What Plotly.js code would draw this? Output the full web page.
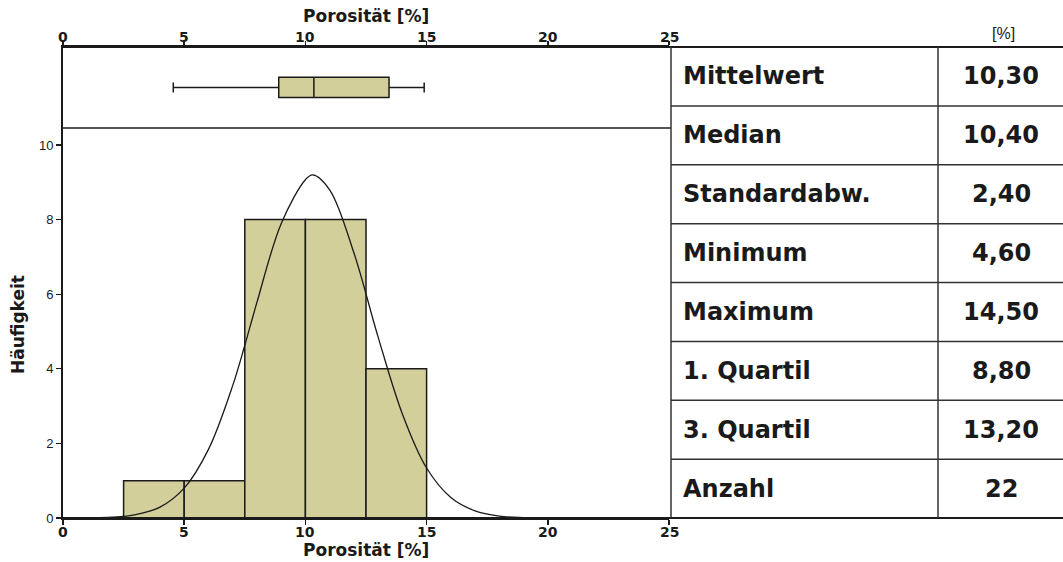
<!DOCTYPE html>
<html>
<head>
<meta charset="utf-8">
<script src="https://cdn.plot.ly/plotly-3.0.1.min.js"></script>
<style>html,body{margin:0;padding:0;background:#fff;}#chart{width:1063px;height:562px;}</style>
</head>
<body>
<div id="chart"></div>
<script>
// ---- data ----
const binCenters = [3.75, 6.25, 8.75, 11.25, 13.75];
const binCounts  = [1, 1, 8, 8, 4];
const binWidth   = 2.5;

const curveX = [0, 1, 2, 3, 4, 5, 6, 7, 7.5, 8, 9, 10, 10.3, 11, 12, 13, 14, 15, 16, 17, 18, 19, 20];
const curveY = [0.00, 0.005, 0.02, 0.09, 0.29, 0.80, 1.84, 3.55, 4.63, 5.78, 7.89, 9.07, 9.2, 8.8, 7.11, 4.85, 2.79, 1.34, 0.55, 0.19, 0.05, 0.01, 0.00];

const boxMin = [4.55], boxQ1 = [8.9], boxMedian = [10.35], boxQ3 = [13.45], boxMax = [14.9];

const statLabels = ["Mittelwert", "Median", "Standardabw.", "Minimum", "Maximum", "1. Quartil", "3. Quartil", "Anzahl"];
const statValues = ["10,30", "10,40", "2,40", "4,60", "14,50", "8,80", "13,20", "22"];
const unitHeader = "[%]";
const xTicks = [0, 5, 10, 15, 20, 25];
const yTicks = [0, 2, 4, 6, 8, 10];
const xTitle = "Porosität [%]";
const yTitle = "Häufigkeit";

// ---- layout geometry (pixels) ----
const W = 1063, H = 562;
const L = 63, T = 47, B = 44;
const plotW = W - L, plotH = H - T - B;
const px = x => (x - L) / plotW;          // pixel x -> paper
const py = y => (H - B - y) / plotH;      // pixel y -> paper
const sepY = 128, tableX = 671, colX = 938, rightX = 1063;

const fill = '#D3CF9B';
const ink = '#1a1a1a';
const FONT = 'Liberation Sans, Arial, sans-serif';
const TFONT = 'DejaVu Sans, Liberation Sans, sans-serif';

const traces = [
  {
    type: 'bar', x: binCenters, y: binCounts, width: binWidth,
    marker: {color: fill, line: {color: ink, width: 1.5}},
    xaxis: 'x', yaxis: 'y', hoverinfo: 'x+y'
  },
  {
    type: 'scatter', mode: 'lines', x: curveX, y: curveY,
    line: {color: ink, width: 1.3, shape: 'spline', smoothing: 1},
    xaxis: 'x', yaxis: 'y'
  },
  {
    type: 'box', orientation: 'h', y: [0],
    q1: boxQ1, median: boxMedian, q3: boxQ3, lowerfence: boxMin, upperfence: boxMax,
    width: 0.5, whiskerwidth: 0.5,
    fillcolor: fill, line: {color: ink, width: 1.5},
    xaxis: 'x2', yaxis: 'y2'
  }
];

const shapes = [];
const line = (x0, y0, x1, y1, w, c) => shapes.push({type: 'line', xref: 'paper', yref: 'paper',
  x0: px(x0), y0: py(y0), x1: px(x1), y1: py(y1), line: {color: c || ink, width: w}});

// frame
line(L, T, rightX, T, 2);
line(L, H - B, rightX, H - B, 2);
line(L, sepY, tableX, sepY, 1.5);
line(tableX, T, tableX, H - B, 1.5, '#333');
line(colX, T, colX, H - B, 1.5, '#333');
const nRows = statLabels.length;
const rowH = (H - B - T) / nRows;
for (let i = 1; i < nRows; i++) {
  line(tableX, T + i * rowH, rightX, T + i * rowH, 1.5, '#333');
}

const annotations = [];
statLabels.forEach((lab, i) => {
  const yc = T + (i + 0.5) * rowH;
  annotations.push({xref: 'paper', yref: 'paper', x: px(681), y: py(yc), xanchor: 'left', yanchor: 'middle',
    text: '<b>' + lab + '</b>', showarrow: false, font: {family: TFONT, size: 24, color: ink}});
  annotations.push({xref: 'paper', yref: 'paper', x: px(1001), y: py(yc), xanchor: 'center', yanchor: 'middle',
    text: '<b>' + statValues[i] + '</b>', showarrow: false, font: {family: TFONT, size: 24, color: ink}});
});
annotations.push({xref: 'paper', yref: 'paper', x: px(1003), y: py(33), xanchor: 'center', yanchor: 'middle',
  text: unitHeader, showarrow: false, font: {family: FONT, size: 16, color: ink}});
// x tick labels (top and bottom), placed at axis values
xTicks.forEach(v => {
  annotations.push({xref: 'x', yref: 'paper', x: v, y: py(532), xanchor: 'center', yanchor: 'middle',
    text: '<b>' + v + '</b>', showarrow: false, font: {family: TFONT, size: 14, color: ink}});
  annotations.push({xref: 'x2', yref: 'paper', x: v, y: py(37), xanchor: 'center', yanchor: 'middle',
    text: '<b>' + v + '</b>', showarrow: false, font: {family: TFONT, size: 14, color: ink}});
});
// axis titles
annotations.push({xref: 'paper', yref: 'paper', x: px(366), y: py(16), xanchor: 'center', yanchor: 'middle',
  text: '<b>' + xTitle + '</b>', showarrow: false, font: {family: TFONT, size: 17, color: ink}});
annotations.push({xref: 'paper', yref: 'paper', x: px(366), y: py(550), xanchor: 'center', yanchor: 'middle',
  text: '<b>' + xTitle + '</b>', showarrow: false, font: {family: TFONT, size: 17, color: ink}});
annotations.push({xref: 'paper', yref: 'paper', x: px(18), y: py(325), xanchor: 'center', yanchor: 'middle',
  textangle: -90, text: '<b>' + yTitle + '</b>', showarrow: false, font: {family: TFONT, size: 17, color: ink}});

const histTop = py(sepY);
const layout = {
  width: W, height: H,
  margin: {l: L, r: 0, t: T, b: B, pad: 0},
  paper_bgcolor: '#fff', plot_bgcolor: 'rgba(0,0,0,0)',
  showlegend: false,
  xaxis: {
    domain: [0, px(669)], range: [0, 25], anchor: 'y',
    tickvals: xTicks, showticklabels: false,
    ticks: 'outside', ticklen: 5, tickwidth: 1.5, tickcolor: ink,
    showline: true, linecolor: ink, linewidth: 2, showgrid: false, zeroline: false
  },
  yaxis: {
    domain: [0, histTop], range: [0, (H - B - sepY) / 37.3], anchor: 'x',
    tickvals: yTicks, ticks: 'outside', ticklen: 5, tickwidth: 1.2, tickcolor: ink,
    showline: true, linecolor: ink, linewidth: 2, showgrid: false, zeroline: false,
    tickfont: {family: FONT, size: 13, color: ink}
  },
  xaxis2: {
    domain: [0, px(669)], range: [0, 25], anchor: 'y2', side: 'top',
    tickvals: xTicks, showticklabels: false,
    ticks: 'outside', ticklen: 4, tickwidth: 1.5, tickcolor: ink,
    showline: true, linecolor: ink, linewidth: 2, showgrid: false, zeroline: false
  },
  yaxis2: {
    domain: [histTop, 1], range: [-1, 1], anchor: 'x2',
    showticklabels: false, ticks: '', showline: true, linecolor: ink, linewidth: 2,
    showgrid: false, zeroline: false
  },
  shapes: shapes,
  annotations: annotations
};

Plotly.newPlot('chart', traces, layout, {displayModeBar: false, staticPlot: true});
</script>
</body>
</html>
